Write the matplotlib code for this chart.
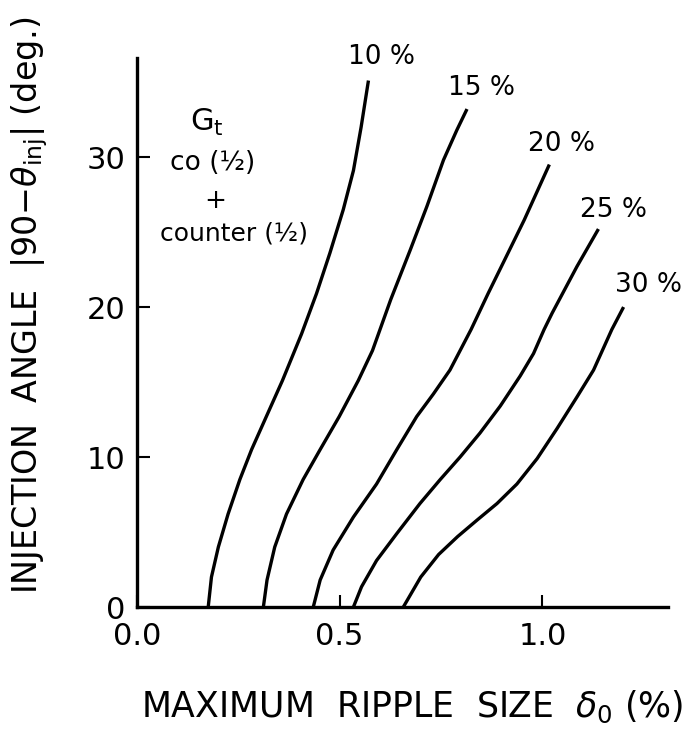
import matplotlib
matplotlib.use("Agg")
import matplotlib.pyplot as plt

plt.rcParams['font.family'] = ['DejaVu Sans']
plt.rcParams['mathtext.fontset'] = 'dejavusans'

# ripple size (%) vs injection angle (deg), one curve per contour level
LEVELS = ["10 %", "15 %", "20 %", "25 %", "30 %"]

x10 = [0.176, 0.184, 0.201, 0.225, 0.254, 0.283, 0.316, 0.359, 0.406, 0.443, 0.476, 0.509, 0.534, 0.553, 0.571]
y10 = [0, 2.0, 4.0, 6.2, 8.5, 10.5, 12.5, 15.1, 18.2, 20.9, 23.6, 26.5, 29.1, 32.0, 35.1]

x15 = [0.312, 0.321, 0.340, 0.369, 0.410, 0.452, 0.499, 0.546, 0.581, 0.626, 0.674, 0.715, 0.756, 0.789, 0.814]
y15 = [0, 1.8, 4.0, 6.2, 8.5, 10.5, 12.7, 15.1, 17.1, 20.5, 23.8, 26.7, 29.8, 31.8, 33.2]

x20 = [0.435, 0.452, 0.484, 0.534, 0.591, 0.641, 0.690, 0.731, 0.772, 0.824, 0.866, 0.906, 0.955, 1.017]
y20 = [0, 1.8, 3.8, 6.0, 8.2, 10.5, 12.7, 14.2, 15.8, 18.5, 20.9, 23.1, 25.8, 29.5]

x25 = [0.534, 0.554, 0.591, 0.641, 0.698, 0.748, 0.797, 0.846, 0.896, 0.945, 0.978, 1.004, 1.024, 1.085, 1.138]
y25 = [0, 1.35, 3.1, 4.9, 6.9, 8.5, 10.0, 11.6, 13.4, 15.4, 16.9, 18.5, 19.6, 22.7, 25.2]

x30 = [0.657, 0.700, 0.744, 0.791, 0.839, 0.888, 0.937, 0.987, 1.036, 1.085, 1.126, 1.171, 1.200]
y30 = [0, 2.0, 3.5, 4.7, 5.8, 6.9, 8.2, 9.9, 11.9, 14.0, 15.8, 18.5, 20.0]

# where each curve label sits
label_x = [0.602, 0.849, 1.046, 1.174, 1.261]
label_y = [36.7, 34.6, 30.9, 26.5, 21.5]


def main():
    fig = plt.figure(figsize=(6.91, 7.31), dpi=100)
    ax = fig.add_axes([0.198, 0.1696, 0.769, 0.751])

    curves = [(x10, y10), (x15, y15), (x20, y20), (x25, y25), (x30, y30)]
    for (xs, ys), lab, lx, ly in zip(curves, LEVELS, label_x, label_y):
        ax.plot(xs, ys, color='black', lw=2.4, solid_capstyle='butt',
                solid_joinstyle='round', clip_on=False)
        ax.text(lx, ly, lab, fontsize=19, ha='center', va='center')

    ax.set_xlim(0, 1.31)
    ax.set_ylim(0, 36.6)
    ax.set_xticks([0.0, 0.5, 1.0])
    ax.set_xticklabels(['0.0', '0.5', '1.0'])
    ax.set_yticks([0, 10, 20, 30])
    ax.tick_params(direction='in', length=9, width=1.5, labelsize=22)
    ax.tick_params(axis='x', pad=11)
    ax.tick_params(axis='y', pad=8)

    for side in ['top', 'right']:
        ax.spines[side].set_visible(False)
    for side in ['left', 'bottom']:
        ax.spines[side].set_linewidth(2.4)

    # condition text
    ax.text(0.173, 32.3, r'G$_{\mathrm{t}}$', fontsize=22, ha='center', va='center')
    ax.text(0.188, 29.6, 'co (½)', fontsize=19, ha='center', va='center')
    ax.text(0.193, 27.1, '+', fontsize=19, ha='center', va='center')
    ax.text(0.240, 24.9, 'counter (½)', fontsize=18, ha='center', va='center')

    ax.set_xlabel(r'MAXIMUM  RIPPLE  SIZE  $\delta_{0}$ (%)', fontsize=25)
    ax.xaxis.set_label_coords(0.518, -0.182)
    ax.xaxis.label.set_va('center')
    ax.set_ylabel(r'INJECTION  ANGLE  $|90\mathrm{-}\theta_{\mathrm{inj}}|$ (deg.)', fontsize=24)
    ax.yaxis.set_label_coords(-0.2015, 0.55)
    ax.yaxis.label.set_va('center')

    fig.savefig('out.png', dpi=100)


if __name__ == "__main__":
    main()
